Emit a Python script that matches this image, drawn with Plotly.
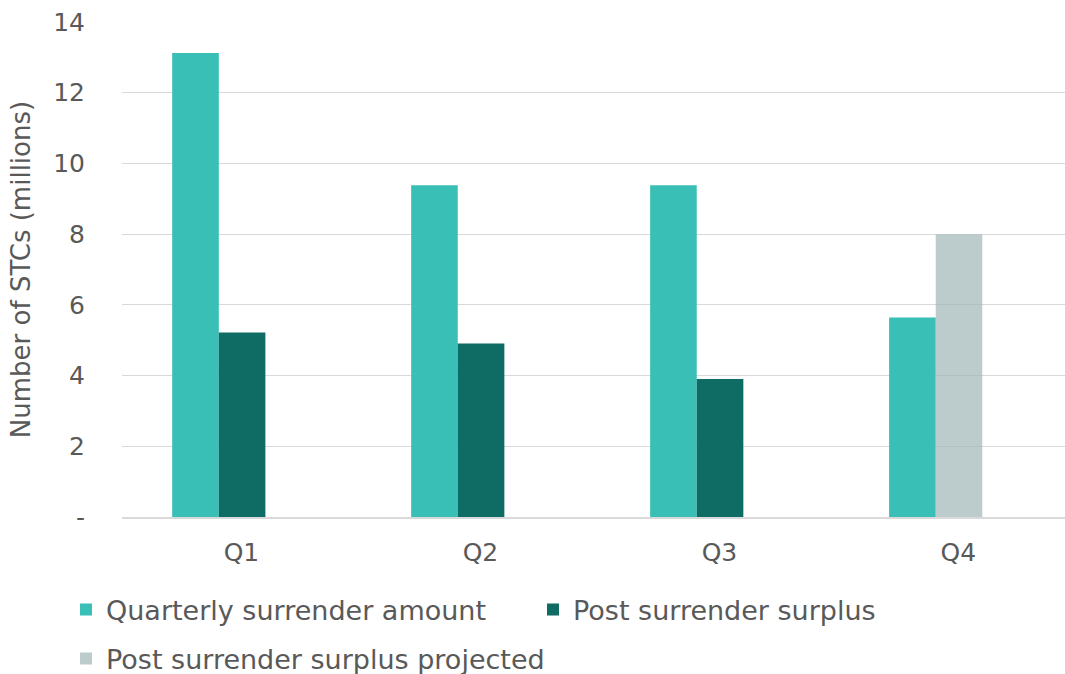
import plotly.graph_objects as go

quarters = ["Q1", "Q2", "Q3", "Q4"]
surrender_amount = [13.12, 9.38, 9.38, 5.64]
surplus = [5.22, 4.91, 3.90, None]
surplus_projected = [None, None, None, 8.0]

y_ticks = [0, 2, 4, 6, 8, 10, 12, 14]
y_tick_labels = ["-", "2", "4", "6", "8", "10", "12", "14"]

FONT = "DejaVu Sans"
TEXT = "#595959"
GRID = "#d9d9d9"
W, H = 1065, 674

x_pos = list(range(len(quarters)))
bar_w = 0.195

fig = go.Figure()
fig.add_trace(go.Bar(
    x=x_pos, y=surrender_amount, name="Quarterly surrender amount",
    marker=dict(color="#39bfb5", line=dict(width=0)),
    width=bar_w, offset=-0.29, legend="legend", showlegend=True,
))
fig.add_trace(go.Bar(
    x=x_pos, y=surplus, name="Post surrender surplus",
    marker=dict(color="#0e6c65", line=dict(width=0)),
    width=bar_w, offset=-0.095, legend="legend2", showlegend=True,
))
fig.add_trace(go.Bar(
    x=x_pos, y=surplus_projected, name="Post surrender surplus projected",
    marker=dict(color="rgba(160,182,182,0.7)", line=dict(width=0)),
    width=bar_w, offset=-0.095, legend="legend3", showlegend=True,
))

def legend_at(px, py):
    return dict(
        xref="container", yref="container",
        x=px / W, y=1 - py / H, xanchor="left", yanchor="middle",
        orientation="h", bgcolor="rgba(0,0,0,0)", borderwidth=0,
        font=dict(family=FONT, size=27, color=TEXT),
        itemclick=False, itemdoubleclick=False, visible=True,
    )

fig.update_layout(
    width=W, height=H,
    margin=dict(l=122, r=0, t=22, b=157),
    plot_bgcolor="white", paper_bgcolor="white",
    barmode="overlay",
    showlegend=True,
    font=dict(family=FONT, size=25, color=TEXT),
    legend=legend_at(66, 610),
    legend2=legend_at(533, 610),
    legend3=legend_at(66, 659),
    xaxis=dict(
        range=[-0.5, 3.446],
        tickmode="array", tickvals=x_pos, ticktext=quarters,
        showgrid=False, zeroline=False,
        showline=True, linecolor=GRID, linewidth=1.5,
        ticks="", ticklabelstandoff=12,
        tickfont=dict(family=FONT, size=25, color=TEXT),
    ),
    yaxis=dict(
        range=[0, 14],
        tickmode="array", tickvals=y_ticks, ticktext=y_tick_labels,
        showgrid=True, gridcolor=GRID, gridwidth=1.4,
        zeroline=False, showline=False, ticks="",
        ticklabelstandoff=36,
        tickfont=dict(family=FONT, size=25, color=TEXT),
        title=dict(text="Number of STCs (millions)", standoff=15,
                   font=dict(family=FONT, size=26, color=TEXT)),
    ),
)

fig.write_html("out.html")
